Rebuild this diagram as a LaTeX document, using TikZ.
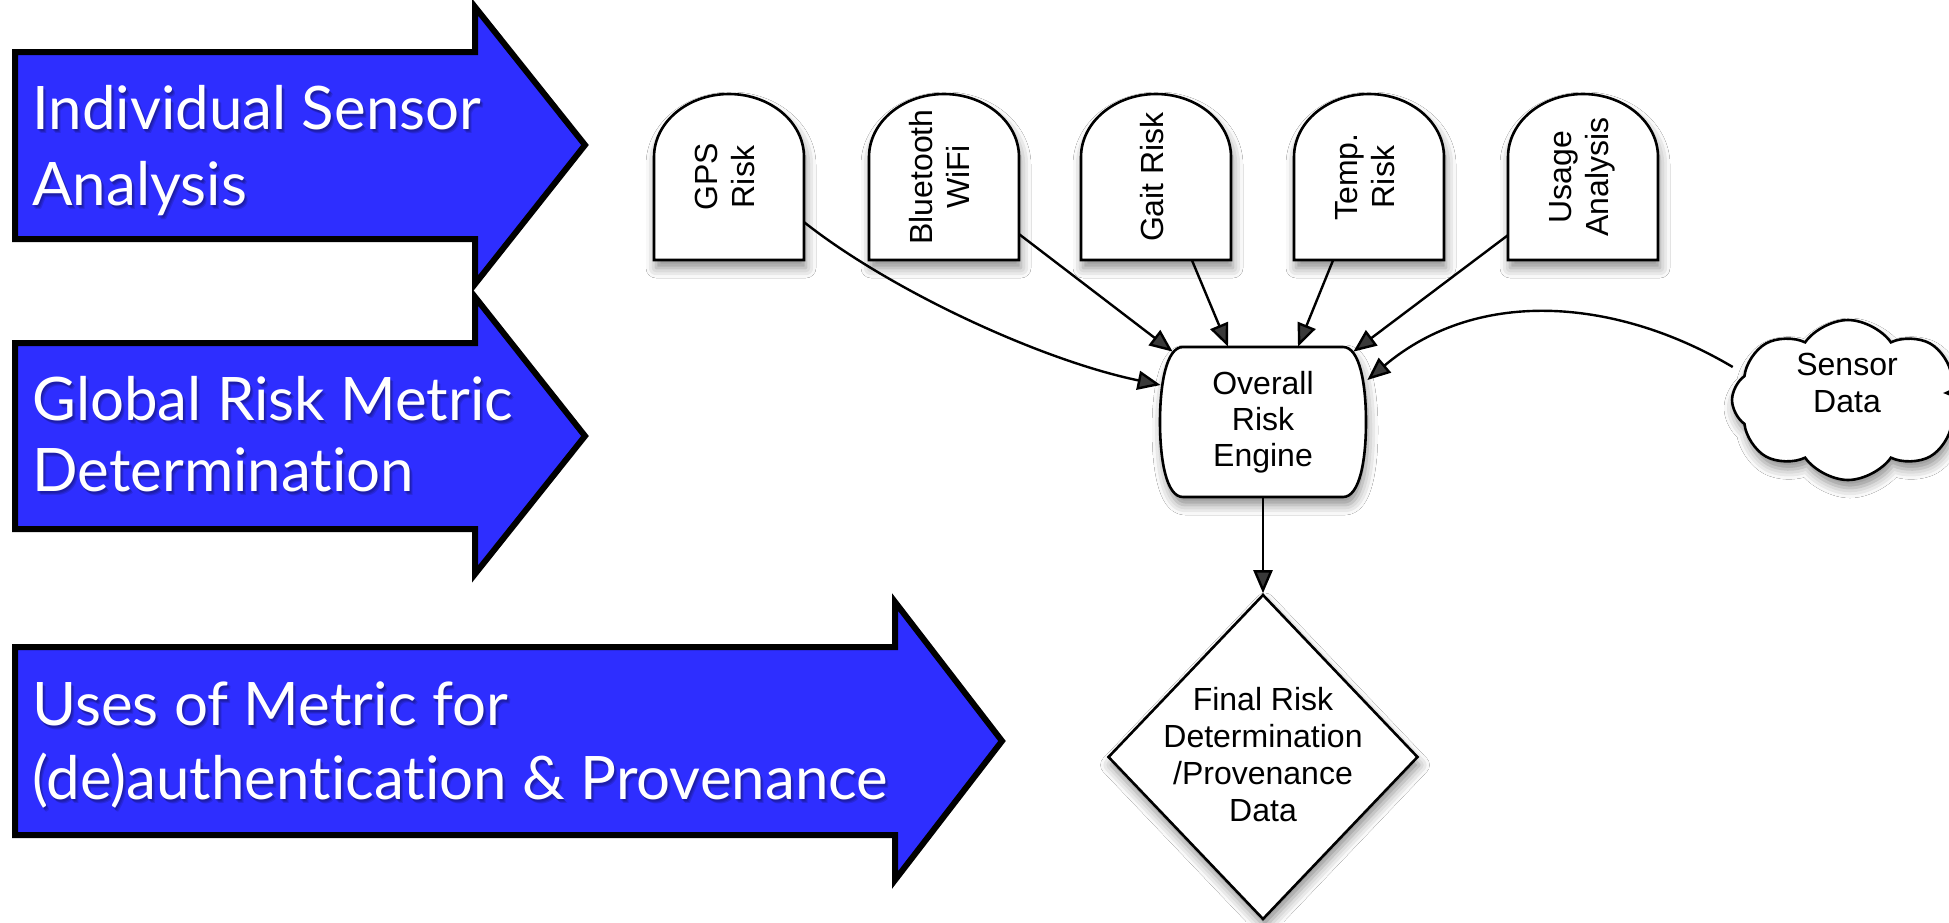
\documentclass[tikz,border=0pt]{standalone}
\usepackage{fontspec}
\usepackage{graphicx}
\setmainfont{Liberation Sans}
\newfontfamily\bannerfont[Ligatures={NoCommon,NoDiscretionary}]{Lato}
\usetikzlibrary{arrows.meta,shapes.geometric,shapes.symbols,shadows.blur,calc}
\definecolor{bannerblue}{RGB}{46,46,255}

\tikzset{
  banner/.style={fill=bannerblue, draw=black, line width=3pt, line join=miter},
  bannertext/.style={anchor=base west, text=white, inner sep=0pt,
    font=\bannerfont\fontsize{30}{36}\selectfont},
  bannershade/.style={anchor=base west, text=black, text opacity=0.13, inner sep=0pt,
    font=\bannerfont\fontsize{30}{36}\selectfont},
  softshadow/.style={blur shadow={shadow xshift=1pt, shadow yshift=-4pt,
    shadow blur radius=5pt, shadow opacity=45}},
  boxline/.style={draw=black, line width=1.3pt, fill=white, softshadow},
  card/.style={inner sep=0pt, minimum width=75pt, minimum height=83pt,
    font=\fontsize{16}{18.5}\selectfont},
  engine/.style={inner sep=0pt, minimum width=102pt, minimum height=75pt,
    align=center, font=\fontsize{16}{18}\selectfont},
  decision/.style={diamond, boxline, inner sep=0pt, minimum width=155pt,
    minimum height=162.5pt},
  label/.style={align=center, inner sep=0pt, font=\fontsize{16}{18.5}\selectfont},
  datacloud/.style={cloud, cloud puffs=8, cloud puff arc=110, cloud ignores aspect,
    boxline, inner sep=0pt, minimum width=116pt, minimum height=80pt},
  conn/.style={line width=1.2pt, -{Triangle[length=11.5pt,width=9.5pt]}},
}

% one line of banner text with a soft dark shadow under it
\newcommand\bannerline[4]{%
  \foreach \dx/\dy/\k in {1/2/a,2/3/b,3/4/c}{%
    \node[bannershade] (#1-\k) at (#2+\dx,#3+\dy) {#4};}
  \node[bannertext] (#1) at (#2,#3) {#4};
}

% rounded-top sensor card centred on x = #2
\newcommand\sensorcard[3]{%
  \path[boxline] ({#2-75},260) -- ({#2-75},157)
    .. controls ({#2-75},122) and ({#2-41},94) .. (#2,94)
    .. controls ({#2+41},94) and ({#2+75},122) .. ({#2+75},157)
    -- ({#2+75},260) -- cycle;
  \node[card] (#1) at (#2,177)
    {\rotatebox{90}{\begin{tabular}{@{}c@{}}#3\end{tabular}}};
}

\begin{document}
\begin{tikzpicture}[x=0.5pt, y=-0.5pt]
\useasboundingbox (0,0) rectangle (1949,922);
\fill[white] (0,0) rectangle (1949,922);

% stage banners
\draw[banner] (15,52) -- (475,52) -- (475,7) -- (585,145) -- (475,284)
  -- (475,239) -- (15,239) -- cycle;
\draw[banner] (15,343) -- (475,343) -- (475,297) -- (585,436) -- (475,574)
  -- (475,529) -- (15,529) -- cycle;
\draw[banner] (15,647) -- (895,647) -- (895,602) -- (1002,741) -- (895,880)
  -- (895,835) -- (15,835) -- cycle;

\bannerline{s1a}{32}{129}{Individual Sensor}
\bannerline{s1b}{32}{205}{Analysis}
\bannerline{s2a}{32}{420}{Global Risk Metric}
\bannerline{s2b}{32}{491}{Determination}
\bannerline{s3a}{32}{725}{Uses of Metric for}
\bannerline{s3b}{32}{799}{(de)authentication \& Provenance}

% sensor cards
\sensorcard{gps}{729}{GPS\\Risk}
\sensorcard{bt}{944}{Bluetooth\\WiFi}
\sensorcard{gait}{1156}{Gait Risk}
\sensorcard{temp}{1369}{Temp.\\Risk}
\sensorcard{usage}{1583}{Usage\\Analysis}

% overall risk engine
\path[boxline] (1183,347) -- (1343,347)
  .. controls (1360,347) and (1366,385) .. (1366,422)
  .. controls (1366,459) and (1360,497) .. (1343,497)
  -- (1183,497)
  .. controls (1166,497) and (1160,459) .. (1160,422)
  .. controls (1160,385) and (1166,347) .. (1183,347) -- cycle;
\node[engine] (engine) at (1263,422) {Overall\\Risk\\Engine};

% final decision
\node[decision] (final) at (1263,757) {};
\node[label] (finallabel) at (1263,755) {Final Risk\\Determination\\/Provenance\\Data};

% sensor data cloud
\node[datacloud] (cloud) at (1848,400) {};
\node[label] (cloudlabel) at (1847,383) {Sensor\\Data};
\coordinate (feed) at (2010,392);

% connectors
\draw[conn] ($(gps.south east)+(0,-38)$) .. controls (890,290) and (1040,360)
  .. ($(engine.west)+(0,-37)$);
\draw[conn] ($(bt.south east)+(0,-26)$) -- ($(engine.north west)+(12,5)$);
\draw[conn] ($(gait.south)+(36,0)$) -- ($(engine.north)+(-35,0)$);
\draw[conn] ($(temp.south)+(-36,0)$) -- ($(engine.north)+(35,0)$);
\draw[conn] ($(usage.south west)+(0,-25)$) -- ($(engine.north east)+(-12,5)$);
\draw[conn] ($(cloud.west)+(2,-33)$) .. controls (1620,300) and (1480,285)
  .. ($(engine.east)+(2,-42)$);
\draw[conn] (engine.south) -- (final.north);
\draw[conn] (feed) -- ($(cloud.center)+(95,-7)$);
\end{tikzpicture}
\end{document}
